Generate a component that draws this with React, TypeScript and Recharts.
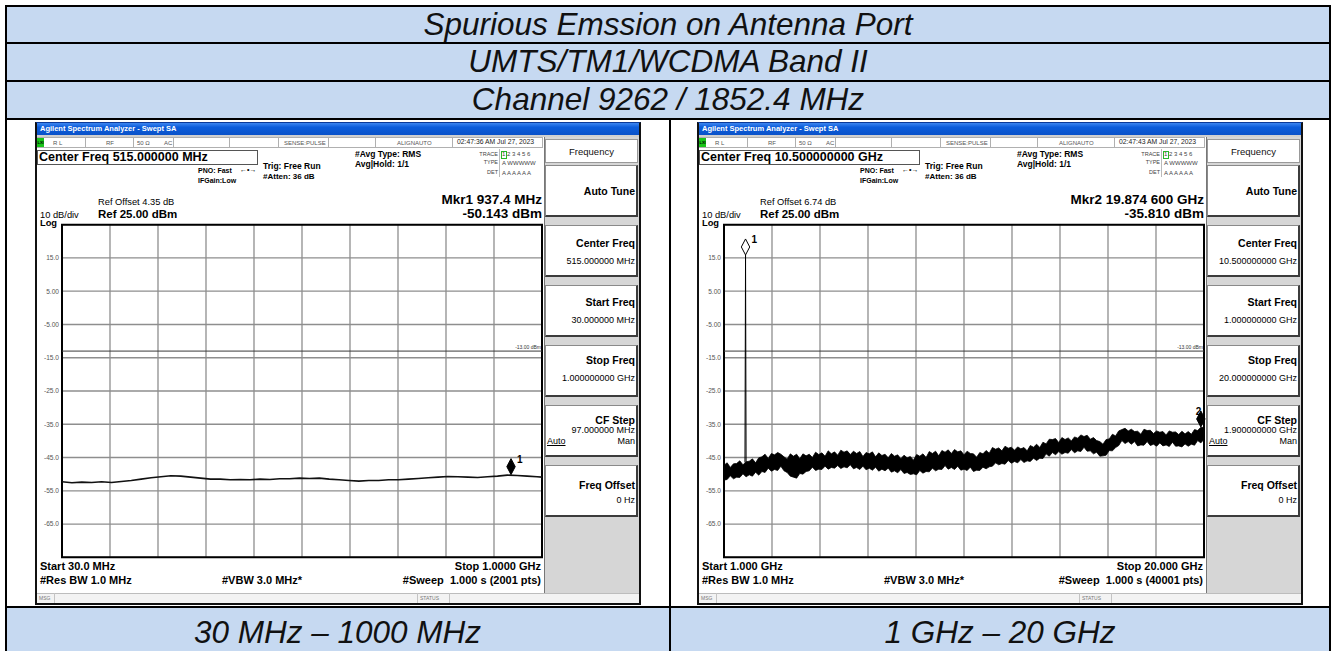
import React from 'react';
import {
  ComposedChart,
  Line,
  Area,
  XAxis,
  YAxis,
  CartesianGrid,
  ReferenceLine,
  ReferenceArea,
  ReferenceDot,
} from 'recharts';

// ---------------- table text ----------------
const tableTitles = ['Spurious Emssion on Antenna Port', 'UMTS/TM1/WCDMA Band II', 'Channel 9262 / 1852.4 MHz'];
const rangeLabels = ['30 MHz \u2013 1000 MHz', '1 GHz \u2013 20 GHz'];

// ---------------- shared amplitude axis ----------------
const yDomain = [-75, 25];
const yTicks = [25, 15, 5, -5, -15, -25, -35, -45, -55, -65, -75];
const yTickLabels = ['', '15.0', '5.00', '-5.00', '-15.0', '-25.0', '-35.0', '-45.0', '-55.0', '-65.0', ''];
const limitLevel = -13;
const limitText = '-13.00 dBm';

// ---------------- left sweep: 30 MHz - 1 GHz ----------------
const leftDomain = [30, 1000];
const leftXTicks = [30, 127, 224, 321, 418, 515, 612, 709, 806, 903, 1000];
const leftFreq = [30, 50, 70, 90, 110, 130, 150, 170, 190, 210, 230, 250, 270, 290, 310, 330, 350, 370, 390, 410, 430, 450, 470, 490, 510, 530, 550, 570, 590, 610, 630, 650, 670, 690, 710, 730, 750, 770, 790, 810, 830, 850, 870, 890, 910, 930, 950, 970, 990, 1000];
const leftLevel = [-52.3, -52.6, -52.4, -52.5, -52.3, -52.5, -52.2, -51.9, -51.5, -51.1, -50.8, -50.5, -50.6, -50.9, -51.2, -51.5, -51.5, -51.7, -51.6, -51.7, -51.5, -51.6, -51.4, -51.4, -51.2, -51.3, -51.2, -51.5, -51.7, -51.9, -52.1, -51.9, -51.9, -51.7, -51.7, -51.5, -51.3, -51.1, -50.9, -50.7, -50.8, -50.9, -51.0, -50.8, -50.6, -50.3, -50.4, -50.6, -50.8, -50.9];
const leftMarkerFreq = [937.4];
const leftMarkerLevel = [-50.143];
const leftMarkerName = ['1'];
const leftMarkerFilled = [true];

// ---------------- right sweep: 1 GHz - 20 GHz (noise envelope, GHz / dBm) ----------------
const rightDomain = [1, 20];
const rightXTicks = [1, 2.9, 4.8, 6.7, 8.6, 10.5, 12.4, 14.3, 16.2, 18.1, 20];
const rightFreq = [
  1, 1.125, 1.25, 1.375, 1.5, 1.625, 1.75, 1.875,
  2, 2.125, 2.25, 2.375, 2.5, 2.625, 2.75, 2.875,
  3, 3.125, 3.25, 3.375, 3.5, 3.625, 3.75, 3.875,
  4, 4.125, 4.25, 4.375, 4.5, 4.625, 4.75, 4.875,
  5, 5.125, 5.25, 5.375, 5.5, 5.625, 5.75, 5.875,
  6, 6.125, 6.25, 6.375, 6.5, 6.625, 6.75, 6.875,
  7, 7.125, 7.25, 7.375, 7.5, 7.625, 7.75, 7.875,
  8, 8.125, 8.25, 8.375, 8.5, 8.625, 8.75, 8.875,
  9, 9.125, 9.25, 9.375, 9.5, 9.625, 9.75, 9.875,
  10, 10.125, 10.25, 10.375, 10.5, 10.625, 10.75, 10.875,
  11, 11.125, 11.25, 11.375, 11.5, 11.625, 11.75, 11.875,
  12, 12.125, 12.25, 12.375, 12.5, 12.625, 12.75, 12.875,
  13, 13.125, 13.25, 13.375, 13.5, 13.625, 13.75, 13.875,
  14, 14.125, 14.25, 14.375, 14.5, 14.625, 14.75, 14.875,
  15, 15.125, 15.25, 15.375, 15.5, 15.625, 15.75, 15.875,
  16, 16.125, 16.25, 16.375, 16.5, 16.625, 16.75, 16.875,
  17, 17.125, 17.25, 17.375, 17.5, 17.625, 17.75, 17.875,
  18, 18.125, 18.25, 18.375, 18.5, 18.625, 18.75, 18.875,
  19, 19.125, 19.25, 19.375, 19.5, 19.625, 19.75, 19.875,
  20,
];
const rightHigh = [
  -47.3, -46.6, -48.0, -46.9, -46.8, -46.0, -47.2, -46.3,
  -46.1, -45.4, -46.6, -45.1, -44.8, -44.0, -45.3, -43.8,
  -44.2, -43.5, -44.0, -44.8, -45.5, -43.9, -44.6, -44.0,
  -45.4, -43.9, -44.5, -44.0, -45.0, -43.4, -44.1, -43.6,
  -44.6, -43.0, -43.9, -43.3, -44.3, -42.8, -43.4, -43.0,
  -44.1, -43.1, -43.8, -43.2, -44.7, -43.5, -43.9, -43.3,
  -44.8, -43.6, -44.4, -44.0, -45.1, -43.8, -44.6, -44.2,
  -45.4, -44.3, -45.1, -44.7, -45.8, -44.1, -44.6, -43.9,
  -45.0, -43.2, -43.8, -43.1, -44.5, -42.9, -43.4, -42.7,
  -43.8, -42.6, -43.3, -43.0, -44.2, -43.1, -43.8, -43.9,
  -44.9, -43.5, -43.9, -42.9, -43.7, -42.0, -42.5, -42.1,
  -43.0, -41.6, -42.2, -41.9, -42.8, -41.8, -42.4, -42.0,
  -43.0, -41.4, -41.9, -41.0, -42.0, -40.4, -40.9, -39.5,
  -39.6, -39.3, -40.5, -39.0, -39.6, -39.1, -40.0, -38.8,
  -39.2, -38.2, -38.7, -38.3, -39.5, -39.0, -39.9, -40.2,
  -41.0, -39.6, -39.4, -38.0, -38.5, -37.0, -36.6, -36.2,
  -37.0, -36.5, -37.2, -37.1, -38.0, -36.5, -36.9, -36.8,
  -37.8, -37.0, -37.4, -37.2, -38.2, -37.0, -37.4, -37.3,
  -38.1, -37.1, -37.9, -37.2, -38.0, -36.6, -36.9, -35.9,
  -36.0,
];
const rightLow = [
  -51.8, -51.6, -50.5, -51.4, -50.9, -51.0, -49.9, -50.8,
  -50.2, -50.6, -49.4, -50.3, -49.2, -49.5, -48.2, -49.1,
  -48.6, -48.9, -47.6, -49.0, -49.5, -50.6, -50.9, -51.2,
  -49.8, -50.0, -49.2, -49.0, -47.9, -48.9, -48.5, -48.6,
  -47.6, -48.5, -48.0, -48.2, -47.4, -48.3, -47.8, -48.1,
  -47.2, -48.4, -48.0, -48.6, -47.6, -48.7, -48.2, -48.8,
  -47.9, -49.1, -48.5, -49.0, -48.2, -49.4, -49.0, -49.6,
  -48.6, -49.8, -49.5, -50.1, -49.9, -50.2, -48.9, -49.7,
  -49.2, -49.3, -48.2, -49.0, -48.5, -48.6, -47.4, -48.5,
  -48.0, -48.6, -47.6, -48.8, -48.5, -48.9, -47.9, -49.2,
  -48.8, -48.9, -47.9, -48.4, -47.8, -47.6, -46.6, -47.2,
  -46.8, -47.0, -45.9, -46.7, -46.2, -46.6, -45.6, -46.5,
  -46.0, -46.2, -45.2, -45.9, -45.2, -45.3, -43.9, -44.6,
  -43.5, -44.2, -43.2, -44.0, -43.5, -43.7, -42.6, -43.6,
  -43.0, -43.2, -41.9, -43.1, -43.0, -43.9, -43.4, -44.6,
  -44.5, -44.3, -42.9, -43.0, -42.0, -41.4, -39.9, -40.8,
  -40.2, -41.0, -40.2, -41.5, -41.2, -41.3, -40.2, -41.4,
  -41.0, -41.6, -40.6, -41.5, -41.2, -41.7, -40.4, -41.6,
  -41.5, -41.8, -40.9, -41.6, -41.0, -41.3, -39.9, -40.6,
  -39.5,
];
const rightSpikeFreq = [1.83, 1.8524, 1.875];
const rightSpikeLevel = [-46.5, 15.9, -46.5];
const rightMarkerFreq = [1.8524, 19.8746];
const rightMarkerLevel = [15.9, -35.81];
const rightMarkerName = ['1', '2'];
const rightMarkerFilled = [false, true];

// ---------------- derived tables for the library ----------------
const leftData = leftFreq.map((f, i) => ({ f, v: leftLevel[i] }));
const rightData = rightFreq.map((f, i) => ({ f, band: [rightLow[i], rightHigh[i]] }));
const rightSpikeData = rightSpikeFreq.map((f, i) => ({ f, v: rightSpikeLevel[i] }));

const FF = '"Liberation Sans", Arial, Helvetica, sans-serif';

type TxtProps = {
  x: number; y: number; s: number; b?: boolean; c?: string;
  a?: 'l' | 'r' | 'c'; i?: boolean; u?: boolean; children: React.ReactNode;
};
function Txt({ x, y, s, b, c = '#000', a = 'l', i, u, children }: TxtProps) {
  const base: React.CSSProperties = {
    position: 'absolute', top: y - s / 2, fontSize: s, lineHeight: `${s}px`, fontFamily: FF,
    fontWeight: b ? 700 : 400, color: c, whiteSpace: 'pre', fontStyle: i ? 'italic' : 'normal',
    textDecoration: u ? 'underline' : 'none',
  };
  if (a === 'l') return <div style={{ ...base, left: x }}>{children}</div>;
  if (a === 'r') return <div style={{ ...base, left: x - 1000, width: 1000, textAlign: 'right' }}>{children}</div>;
  return <div style={{ ...base, left: x - 1000, width: 2000, textAlign: 'center' }}>{children}</div>;
}

function Box({ x, y, w, h, style }: { x: number; y: number; w: number; h: number; style?: React.CSSProperties }) {
  return <div style={{ position: 'absolute', left: x, top: y, width: w, height: h, boxSizing: 'border-box', ...style }} />;
}

const renderYTick = (props: any) => {
  const { x, y, payload } = props;
  const idx = yTicks.indexOf(payload.value);
  return (
    <text x={x} y={y} dy={2.3} textAnchor="end" fontSize={6.6} fill="#555" fontFamily={FF}>
      {yTickLabels[idx]}
    </text>
  );
};

const renderLimitLabel = (props: any) => {
  const vb = props.viewBox || {};
  return (
    <text x={(vb.x || 0) + (vb.width || 0) - 1} y={(vb.y || 0) - 2} textAnchor="end" fontSize={5} fill="#333" fontFamily={FF}>
      {limitText}
    </text>
  );
};

const makeDiamond = (name: string, filled: boolean, labelLeft: boolean) => (props: any) => {
  const { cx, cy } = props;
  if (cx == null || cy == null) return <g />;
  const w = 4.2;
  const h = 16;
  return (
    <g>
      <polygon
        points={`${cx},${cy} ${cx - w},${cy - h / 2} ${cx},${cy - h} ${cx + w},${cy - h / 2}`}
        fill={filled ? '#000' : '#fff'}
        stroke="#000"
        strokeWidth={1}
      />
      <text
        x={labelLeft ? cx + 0.5 : cx + 6}
        y={cy - 12}
        textAnchor={labelLeft ? 'end' : 'start'}
        fontSize={10}
        fontWeight="bold"
        fontFamily={FF}
        fill="#000"
      >
        {name}
      </text>
    </g>
  );
};

const CHART_W = 508;
const CHART_H = 345;
const CHART_MARGIN = { top: 6.7, right: 3, bottom: 5.7, left: 0 };
const GRID_COLOR = '#8e8e8e';

function LeftPlot() {
  return (
    <ComposedChart width={CHART_W} height={CHART_H} data={leftData} margin={CHART_MARGIN}>
      <CartesianGrid stroke={GRID_COLOR} strokeWidth={1.3} />
      <XAxis type="number" dataKey="f" domain={leftDomain} ticks={leftXTicks} hide allowDataOverflow />
      <YAxis type="number" domain={yDomain} ticks={yTicks} interval={0} width={25} axisLine={false} tickLine={false} tickSize={0} tickMargin={3} tick={renderYTick} allowDataOverflow />
      <ReferenceLine y={limitLevel} stroke="#3a3a3a" strokeWidth={1} label={renderLimitLabel} />
      <Line type="linear" dataKey="v" stroke="#111" strokeWidth={1.6} dot={false} activeDot={false} isAnimationActive={false} />
      {leftMarkerFreq.map((f, i) => (
        <ReferenceDot key={`lm${i}`} x={f} y={leftMarkerLevel[i]} ifOverflow="visible" shape={makeDiamond(leftMarkerName[i], leftMarkerFilled[i], false)} />
      ))}
      <ReferenceArea x1={leftDomain[0]} x2={leftDomain[1]} y1={yDomain[0]} y2={yDomain[1]} fill="none" fillOpacity={0} stroke="#000" strokeWidth={2} ifOverflow="visible" />
    </ComposedChart>
  );
}

function RightPlot() {
  return (
    <ComposedChart width={CHART_W} height={CHART_H} data={rightData} margin={CHART_MARGIN}>
      <CartesianGrid stroke={GRID_COLOR} strokeWidth={1.3} />
      <XAxis type="number" dataKey="f" domain={rightDomain} ticks={rightXTicks} hide allowDataOverflow />
      <YAxis type="number" domain={yDomain} ticks={yTicks} interval={0} width={25} axisLine={false} tickLine={false} tickSize={0} tickMargin={3} tick={renderYTick} allowDataOverflow />
      <ReferenceLine y={limitLevel} stroke="#3a3a3a" strokeWidth={1} label={renderLimitLabel} />
      <Area type="linear" dataKey="band" stroke="#000" strokeWidth={0.8} fill="#000" fillOpacity={1} dot={false} activeDot={false} isAnimationActive={false} />
      <Line type="linear" data={rightSpikeData} dataKey="v" stroke="#000" strokeWidth={1} dot={false} activeDot={false} isAnimationActive={false} />
      {rightMarkerFreq.map((f, i) => (
        <ReferenceDot key={`rm${i}`} x={f} y={rightMarkerLevel[i]} ifOverflow="visible" shape={makeDiamond(rightMarkerName[i], rightMarkerFilled[i], i === 1)} />
      ))}
      <ReferenceArea x1={rightDomain[0]} x2={rightDomain[1]} y1={yDomain[0]} y2={yDomain[1]} fill="none" fillOpacity={0} stroke="#000" strokeWidth={2} ifOverflow="visible" />
    </ComposedChart>
  );
}

type ShotProps = {
  ox: number; time: string; center: string; refOffset: string; mkr: string; mkrVal: string;
  start: string; stop: string; sweep: string;
  kCenter: string; kStart: string; kStop: string; kStep: string;
  chart: React.ReactNode;
};

const statusSeps = [48, 96, 136, 192, 241, 291, 338, 415];
const keyTops = [42, 102, 162, 222, 282, 342];

function Shot(p: ShotProps) {
  const keyStyle: React.CSSProperties = {
    background: '#fff', borderTop: '1px solid #8a8a8a', borderLeft: '1px solid #8a8a8a',
    borderRight: '2px solid #3c3c3c', borderBottom: '2px solid #3c3c3c',
  };
  return (
    <div style={{
      position: 'absolute', left: p.ox - 2, top: 122, width: 606, height: 483, boxSizing: 'border-box',
      borderLeft: '2px solid #111', borderRight: '2px solid #111', borderBottom: '2px solid #111',
      borderTop: '1px solid #0b3a9a', background: '#fff',
    }}>
      <div style={{ position: 'relative', width: 602, height: 480, overflow: 'hidden' }}>
        {/* title bar */}
        <Box x={0} y={0} w={602} h={12} style={{ background: 'linear-gradient(#3d86f0 0%, #0c5ddb 35%, #0a52c9 100%)' }} />
        <Txt x={3} y={6.2} s={7.5} b c="#fff">Agilent Spectrum Analyzer - Swept SA</Txt>
        <Box x={0} y={12} w={602} h={2} style={{ background: '#d0d0d0' }} />

        {/* status row */}
        <Box x={0} y={14} w={506} h={11} style={{ border: '1px solid #b0b0b0', background: '#fff' }} />
        {statusSeps.map((sx, i) => (
          <Box key={`ss${i}`} x={sx} y={14} w={1} h={11} style={{ background: '#b0b0b0' }} />
        ))}
        <Box x={0} y={15} w={7} h={9} style={{ background: '#19c419' }} />
        <Txt x={0.5} y={19.5} s={4} b c="#000">LXI</Txt>
        <Txt x={16} y={19.5} s={6} c="#555">R L</Txt>
        <Txt x={69} y={19.5} s={6} c="#555">RF</Txt>
        <Txt x={100} y={19.5} s={6} c="#555">50 Ω</Txt>
        <Txt x={127} y={19.5} s={6} c="#555">AC</Txt>
        <Txt x={247} y={19.5} s={6} c="#555">SENSE:PULSE</Txt>
        <Txt x={360} y={19.5} s={6} c="#555">ALIGNAUTO</Txt>
        <Txt x={420} y={19.5} s={6.8} c="#222">{p.time}</Txt>

        {/* center freq box */}
        <Box x={0} y={27} w={221} h={15} style={{ border: '1px solid #555' }} />
        <Txt x={2} y={34.5} s={12.5} b>{p.center}</Txt>

        <Txt x={161} y={47} s={7} b>PNO: Fast</Txt>
        <Txt x={203} y={46.5} s={7} b>{'\u2190\u2022\u2192'}</Txt>
        <Txt x={161} y={57.5} s={7} b>IFGain:Low</Txt>
        <Txt x={226} y={43.7} s={8.5} b>Trig: Free Run</Txt>
        <Txt x={226} y={54.3} s={8} b>#Atten: 36 dB</Txt>
        <Txt x={318} y={31.3} s={8.5} b>#Avg Type: RMS</Txt>
        <Txt x={318} y={41.3} s={8.5} b>Avg|Hold: 1/1</Txt>

        {/* trace block */}
        <Txt x={461} y={31.3} s={5.5} a="r" c="#444">TRACE</Txt>
        <Txt x={461} y={39.7} s={5.5} a="r" c="#444">TYPE</Txt>
        <Txt x={461} y={49.7} s={5.5} a="r" c="#444">DET</Txt>
        <Box x={462} y={26} w={1} h={28} style={{ background: '#bbb' }} />
        <Box x={463.5} y={27.5} w={6} h={8} style={{ border: '1px solid #2bb52b' }} />
        <Txt x={465} y={31.3} s={6} c="#444">1 2 3 4 5 6</Txt>
        <Txt x={465} y={39.7} s={6} c="#444">A WWWWW</Txt>
        <Txt x={465} y={49.7} s={6} c="#444">A A A A A A</Txt>

        {/* marker readout & reference */}
        <Txt x={505} y={76.5} s={13.5} b a="r">{p.mkr}</Txt>
        <Txt x={505} y={90.5} s={13.5} b a="r">{p.mkrVal}</Txt>
        <Txt x={61} y={79.3} s={9.3}>{p.refOffset}</Txt>
        <Txt x={61} y={91.7} s={11.5} b>Ref 25.00 dBm</Txt>
        <Txt x={3} y={92.7} s={9.3}>10 dB/div</Txt>
        <Txt x={3} y={101} s={9.3} b>Log</Txt>

        {/* plot */}
        <div style={{ position: 'absolute', left: 0, top: 95, width: CHART_W, height: CHART_H }}>{p.chart}</div>

        {/* bottom annotations */}
        <Txt x={3} y={443.7} s={11} b>{p.start}</Txt>
        <Txt x={3} y={457.7} s={11} b>#Res BW 1.0 MHz</Txt>
        <Txt x={185} y={457.7} s={11} b>#VBW 3.0 MHz*</Txt>
        <Txt x={504} y={443.7} s={11} b a="r">{p.stop}</Txt>
        <Txt x={504} y={457.7} s={11} b a="r">{p.sweep}</Txt>

        {/* soft keys */}
        <Box x={507} y={14} w={95} h={456} style={{ background: '#d6d6d6', borderLeft: '1px solid #777' }} />
        <Box x={508} y={16} w={93} h={24} style={{ background: '#fff', border: '1px solid #999' }} />
        <Txt x={554.5} y={28.5} s={9.5} a="c" c="#111">Frequency</Txt>
        {keyTops.map((t, i) => (
          <Box key={`k${i}`} x={508} y={t} w={93} h={52} style={keyStyle} />
        ))}
        <Txt x={598} y={keyTops[0] + 26} s={10.5} b a="r">Auto Tune</Txt>
        <Txt x={598} y={keyTops[1] + 18} s={10.5} b a="r">Center Freq</Txt>
        <Txt x={598} y={keyTops[1] + 36} s={9} a="r">{p.kCenter}</Txt>
        <Txt x={598} y={keyTops[2] + 17} s={10.5} b a="r">Start Freq</Txt>
        <Txt x={598} y={keyTops[2] + 35} s={9} a="r">{p.kStart}</Txt>
        <Txt x={598} y={keyTops[3] + 15.5} s={10.5} b a="r">Stop Freq</Txt>
        <Txt x={598} y={keyTops[3] + 33.5} s={9} a="r">{p.kStop}</Txt>
        <Txt x={598} y={keyTops[4] + 15} s={10.5} b a="r">CF Step</Txt>
        <Txt x={598} y={keyTops[4] + 25.5} s={9} a="r">{p.kStep}</Txt>
        <Txt x={510} y={keyTops[4] + 36} s={9} u>Auto</Txt>
        <Txt x={598} y={keyTops[4] + 36} s={9} a="r">Man</Txt>
        <Txt x={598} y={keyTops[5] + 20} s={10.5} b a="r">Freq Offset</Txt>
        <Txt x={598} y={keyTops[5] + 35} s={9} a="r">0 Hz</Txt>

        {/* message bar */}
        <Box x={0} y={470} w={602} h={10} style={{ background: '#f3f3f3', borderTop: '1px solid #bdbdbd' }} />
        <Box x={17} y={470} w={1} h={10} style={{ background: '#c4c4c4' }} />
        <Box x={380} y={470} w={1} h={10} style={{ background: '#c4c4c4' }} />
        <Box x={412} y={470} w={1} h={10} style={{ background: '#c4c4c4' }} />
        <Txt x={2} y={475.5} s={5} c="#777">MSG</Txt>
        <Txt x={383} y={475.5} s={5} c="#777">STATUS</Txt>
      </div>
    </div>
  );
}

const BLUE = '#c6d9f1';

export default function App() {
  return (
    <div style={{ position: 'absolute', left: 0, top: 0, width: 1335, height: 651, overflow: 'hidden', background: '#fff', fontFamily: FF }}>
      {/* blue header rows */}
      <Box x={6} y={7} w={1324} h={35} style={{ background: BLUE }} />
      <Box x={6} y={44} w={1324} h={36} style={{ background: BLUE }} />
      <Box x={6} y={82} w={1324} h={36} style={{ background: BLUE }} />
      <Box x={6} y={608} w={1324} h={43} style={{ background: BLUE }} />

      {/* grid lines of the table */}
      <Box x={5} y={5} w={1326} h={2} style={{ background: '#000' }} />
      <Box x={5} y={42} w={1326} h={2} style={{ background: '#000' }} />
      <Box x={5} y={80} w={1326} h={2} style={{ background: '#000' }} />
      <Box x={5} y={118} w={1326} h={2} style={{ background: '#000' }} />
      <Box x={5} y={606} w={1326} h={2} style={{ background: '#000' }} />
      <Box x={5} y={5} w={2} h={646} style={{ background: '#000' }} />
      <Box x={1329} y={5} w={2} h={646} style={{ background: '#000' }} />
      <Box x={669} y={118} w={2} h={533} style={{ background: '#000' }} />

      <Txt x={668} y={24.5} s={31.5} i a="c" c="#111">{tableTitles[0]}</Txt>
      <Txt x={668} y={62} s={31.5} i a="c" c="#111">{tableTitles[1]}</Txt>
      <Txt x={668} y={100} s={31.5} i a="c" c="#111">{tableTitles[2]}</Txt>
      <Txt x={337.5} y={633} s={31.5} i a="c" c="#111">{rangeLabels[0]}</Txt>
      <Txt x={1000} y={633} s={31.5} i a="c" c="#111">{rangeLabels[1]}</Txt>

      <Shot
        ox={37}
        time="02:47:36 AM Jul 27, 2023"
        center="Center Freq 515.000000 MHz"
        refOffset="Ref Offset 4.35 dB"
        mkr="Mkr1 937.4 MHz"
        mkrVal="-50.143 dBm"
        start="Start 30.0 MHz"
        stop="Stop 1.0000 GHz"
        sweep="#Sweep  1.000 s (2001 pts)"
        kCenter="515.000000 MHz"
        kStart="30.000000 MHz"
        kStop="1.000000000 GHz"
        kStep="97.000000 MHz"
        chart={<LeftPlot />}
      />
      <Shot
        ox={699}
        time="02:47:43 AM Jul 27, 2023"
        center="Center Freq 10.500000000 GHz"
        refOffset="Ref Offset 6.74 dB"
        mkr="Mkr2 19.874 600 GHz"
        mkrVal="-35.810 dBm"
        start="Start 1.000 GHz"
        stop="Stop 20.000 GHz"
        sweep="#Sweep  1.000 s (40001 pts)"
        kCenter="10.500000000 GHz"
        kStart="1.000000000 GHz"
        kStop="20.000000000 GHz"
        kStep="1.900000000 GHz"
        chart={<RightPlot />}
      />
    </div>
  );
}
